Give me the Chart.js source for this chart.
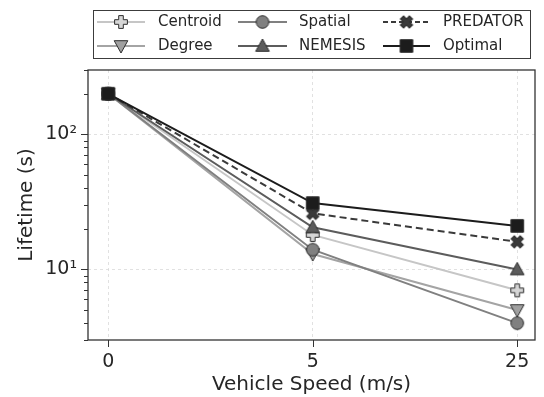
<!DOCTYPE html>
<html>
<head>
<meta charset="utf-8">
<script src="https://cdn.jsdelivr.net/npm/chart.js@4.4.0/dist/chart.umd.min.js"></script>
<style>
  html, body { margin: 0; padding: 0; background: #fff; }
</style>
</head>
<body>
<canvas id="c" width="544" height="397"></canvas>
<script>
// values (log y axis)
var speeds = ['0', '5', '25'];
var centroid = [200, 18, 7];
var degree = [200, 13, 5];
var spatial = [200, 14, 4];
var nemesis = [200, 20.5, 10];
var predator = [200, 26, 16];
var optimal = [200, 31, 21];
var yMajor = [10, 100];
var yMinor = [3, 4, 5, 6, 7, 8, 9, 20, 30, 40, 50, 60, 70, 80, 90, 200, 300];

var FONT = 'DejaVu Sans';
var TXT = '#262626';
var EDGE = '#2e2e2e';

// filled marker shapes drawn on small canvases (matplotlib style)
function marker(shape, fill) {
  var c = document.createElement('canvas');
  c.width = 18; c.height = 18;
  var g = c.getContext('2d');
  g.translate(9, 9);
  g.fillStyle = fill; g.strokeStyle = EDGE; g.lineWidth = 1;
  g.beginPath();
  if (shape == 'circle') g.arc(0, 0, 6.3, 0, 2 * Math.PI);
  else if (shape == 'square') g.rect(-6.3, -6.3, 12.6, 12.6);
  else if (shape == 'up') { g.moveTo(0, -7); g.lineTo(6.8, 5.3); g.lineTo(-6.8, 5.3); g.closePath(); }
  else if (shape == 'down') { g.moveTo(0, 7); g.lineTo(6.8, -5.3); g.lineTo(-6.8, -5.3); g.closePath(); }
  else {
    var a = 6.4, t = 2.3;
    var pts = [[-t,-a],[t,-a],[t,-t],[a,-t],[a,t],[t,t],[t,a],[-t,a],[-t,t],[-a,t],[-a,-t],[-t,-t]];
    if (shape == 'x') { g.rotate(Math.PI / 4); a = 7.4; }
    pts.forEach(function (p, i) { if (i == 0) g.moveTo(p[0], p[1]); else g.lineTo(p[0], p[1]); });
    g.closePath();
  }
  g.fill(); g.stroke();
  return c;
}

var series = [
  { label: 'Centroid', data: centroid, color: '#c6c6c6', fill: '#d6d6d6', shape: 'plus', dash: [] },
  { label: 'Degree', data: degree, color: '#a4a4a4', fill: '#a0a0a0', shape: 'down', dash: [] },
  { label: 'Spatial', data: spatial, color: '#808080', fill: '#808080', shape: 'circle', dash: [] },
  { label: 'NEMESIS', data: nemesis, color: '#5c5c5c', fill: '#5c5c5c', shape: 'up', dash: [] },
  { label: 'PREDATOR', data: predator, color: '#3a3a3a', fill: '#3a3a3a', shape: 'x', dash: [7, 4] },
  { label: 'Optimal', data: optimal, color: '#1c1c1c', fill: '#1c1c1c', shape: 'square', dash: [] }
];
series.forEach(function (s) { s.img = marker(s.shape, s.fill); });

// legend drawn in columns like matplotlib's ncol=3
var legendBox = {
  id: 'legendBox',
  afterDraw: function (chart) {
    var ctx = chart.ctx;
    ctx.save();
    ctx.fillStyle = '#fff';
    ctx.strokeStyle = '#3c3c3c';
    ctx.lineWidth = 1;
    ctx.fillRect(93.5, 10.5, 437, 48);
    ctx.strokeRect(93.5, 10.5, 437, 48);
    var cols = [[97, 145, 158], [238, 287, 299], [383, 430, 443]];
    var rows = [22, 46];
    ctx.font = '15px "' + FONT + '"';
    ctx.textBaseline = 'middle';
    series.forEach(function (s, i) {
      var c = cols[Math.floor(i / 2)], y = rows[i % 2];
      ctx.strokeStyle = s.color; ctx.lineWidth = 2;
      ctx.setLineDash(s.dash.length ? [5, 3] : []);
      ctx.beginPath(); ctx.moveTo(c[0], y); ctx.lineTo(c[1], y); ctx.stroke();
      ctx.setLineDash([]);
      ctx.drawImage(s.img, (c[0] + c[1]) / 2 - 9, y - 9);
      ctx.fillStyle = TXT;
      ctx.fillText(s.label, c[2], y);
    });
    ctx.restore();
  }
};

// frame and tick marks (major longer than minor)
var frame = {
  id: 'frame',
  afterDraw: function (chart) {
    var ctx = chart.ctx, a = chart.chartArea, sx = chart.scales.x, sy = chart.scales.y;
    ctx.save();
    ctx.strokeStyle = '#333';
    ctx.lineWidth = 1.3;
    ctx.strokeRect(a.left, a.top, a.right - a.left, a.bottom - a.top);
    ctx.lineWidth = 1;
    ctx.beginPath();
    yMajor.concat(yMinor).forEach(function (v) {
      var py = Math.round(sy.getPixelForValue(v)) + 0.5;
      var len = yMajor.indexOf(v) >= 0 ? 7 : 4;
      ctx.moveTo(a.left - len, py); ctx.lineTo(a.left, py);
    });
    speeds.forEach(function (s, i) {
      var px = Math.round(sx.getPixelForValue(i)) + 0.5;
      ctx.moveTo(px, a.bottom); ctx.lineTo(px, a.bottom + 7);
    });
    ctx.stroke();
    ctx.restore();
  }
};

var datasets = series.slice().reverse().map(function (s) {
  return {
    label: s.label,
    data: s.data.map(function (v, i) { return { x: i, y: v }; }),
    borderColor: s.color,
    backgroundColor: s.fill,
    borderWidth: 2,
    borderDash: s.dash,
    pointStyle: s.img,
    pointRadius: 7,
    fill: false,
    tension: 0
  };
});

new Chart(document.getElementById('c'), {
  type: 'line',
  data: { datasets: datasets },
  options: {
    responsive: false,
    animation: false,
    layout: { padding: { top: 70, right: 4, left: 0, bottom: 0 } },
    plugins: { legend: { display: false }, tooltip: { enabled: false } },
    scales: {
      x: {
        type: 'linear',
        min: -0.099,
        max: 2.087,
        afterBuildTicks: function (s) { s.ticks = [0, 1, 2].map(function (v) { return { value: v }; }); },
        afterFit: function (s) { s.height = 57; s.paddingLeft = 0; s.paddingRight = 0; },
        ticks: {
          callback: function (v) { return speeds[v]; },
          font: { family: FONT, size: 19 },
          color: TXT,
          padding: 11,
          maxRotation: 0,
          autoSkip: false
        },
        grid: { color: '#dadada', lineWidth: 0.8, drawTicks: false },
        border: { display: false, dash: [3, 3] },
        title: { display: true, text: 'Vehicle Speed (m/s)', font: { family: FONT, size: 20 }, color: TXT, padding: { top: 0, bottom: 0 } }
      },
      y: {
        type: 'logarithmic',
        min: 3,
        max: 300,
        afterBuildTicks: function (s) {
          s.ticks = yMinor.concat(yMajor).sort(function (a, b) { return a - b; }).map(function (v) { return { value: v }; });
        },
        afterFit: function (s) { s.width = 88; s.paddingTop = 0; s.paddingBottom = 0; },
        ticks: {
          callback: function (v) { return v == 10 ? '10\u00b9' : (v == 100 ? '10\u00b2' : ''); },
          font: { family: FONT, size: 19 },
          color: TXT,
          padding: 11,
          autoSkip: false
        },
        grid: {
          color: function (c) { return yMajor.indexOf(c.tick.value) >= 0 ? '#dadada' : 'rgba(0,0,0,0)'; },
          lineWidth: 0.8,
          drawTicks: false
        },
        border: { display: false, dash: [3, 3] },
        title: { display: true, text: 'Lifetime (s)', font: { family: FONT, size: 20 }, color: TXT, padding: { top: 15, bottom: 0 } }
      }
    }
  },
  plugins: [legendBox, frame]
});
</script>
</body>
</html>
